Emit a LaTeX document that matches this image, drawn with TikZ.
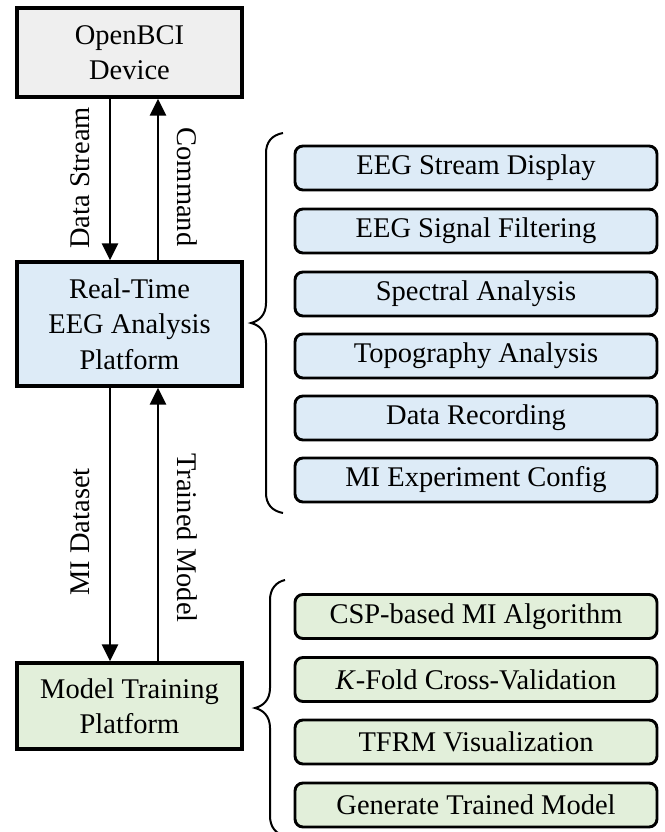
\documentclass[tikz,border=0pt]{standalone}
\usepackage{fontspec}
\setmainfont{Liberation Serif}
\usetikzlibrary{arrows.meta,calc}
\definecolor{boxgrey}{HTML}{EFEFEF}
\definecolor{boxblue}{HTML}{DDEBF7}
\definecolor{boxgreen}{HTML}{E2EFDA}
\begin{document}
\begin{tikzpicture}[x=1pt,y=-1pt,
  font=\fontsize{28.5}{35.5}\selectfont,
  mainbox/.style={draw=black,line width=3.3pt,minimum width=225pt,align=center,inner sep=0pt},
  subbox/.style={draw=black,line width=2.9pt,rounded corners=8pt,minimum width=362pt,minimum height=44pt,inner sep=0pt},
  arr/.style={line width=2.5pt,-{Triangle[width=16pt,length=17pt]}},
  lbl/.style={inner sep=0pt},
  bracestyle/.style={line width=2pt}]
\useasboundingbox (0,0) rectangle (664,832);
\node[mainbox,fill=boxgrey,minimum height=89pt] (dev) at (129.5,52.5) {OpenBCI\\Device};
\node[mainbox,fill=boxblue,minimum height=124pt] (rt) at (129.5,324) {Real-Time\\EEG Analysis\\Platform};
\node[mainbox,fill=boxgreen,minimum height=86pt] (mt) at (129.5,706) {Model Training\\Platform};
\coordinate (xl) at (110,0);
\coordinate (xr) at (158,0);
\draw[arr] (dev.south -| xl) -- (rt.north -| xl);
\draw[arr] (rt.north -| xr) -- (dev.south -| xr);
\draw[arr] (rt.south -| xl) -- (mt.north -| xl);
\draw[arr] (mt.north -| xr) -- (rt.south -| xr);
\node[lbl,rotate=90] (lds) at (80,178) {Data Stream};
\node[lbl,rotate=-90] (lcm) at (187,187) {Command};
\node[lbl,rotate=90] (lmi) at (80,532) {MI Dataset};
\node[lbl,rotate=-90] (ltm) at (187,538) {Trained Model};
\node[subbox,fill=boxblue] (b1) at (476,168) {EEG Stream Display};
\node[subbox,fill=boxblue] (b2) at (476,231) {EEG Signal Filtering};
\node[subbox,fill=boxblue] (b3) at (476,294) {Spectral Analysis};
\node[subbox,fill=boxblue] (b4) at (476,356) {Topography Analysis};
\node[subbox,fill=boxblue] (b5) at (476,418) {Data Recording};
\node[subbox,fill=boxblue] (b6) at (476,480) {MI Experiment Config};
\node[subbox,fill=boxgreen] (g1) at (476,616.5) {CSP-based MI Algorithm};
\node[subbox,fill=boxgreen] (g2) at (476,679.5) {\textit{K}-Fold Cross-Validation};
\node[subbox,fill=boxgreen] (g3) at (476,742) {TFRM Visualization};
\node[subbox,fill=boxgreen] (g4) at (476,805) {Generate Trained Model};
\draw[bracestyle] (283,133) .. controls (272,135) and (266,142) .. (266,153)
  -- (266,303) .. controls (266,315) and (259,321) .. (251,323)
  .. controls (259,325) and (266,331) .. (266,343)
  -- (266,493) .. controls (266,504) and (272,511) .. (283,513);
\draw[bracestyle] (285,580) .. controls (276,582) and (270,589) .. (270,600)
  -- (270,688) .. controls (270,700) and (263,706) .. (255,708)
  .. controls (263,710) and (270,716) .. (270,728)
  -- (270,816) .. controls (270,827) and (276,834) .. (285,836);
\end{tikzpicture}
\end{document}
